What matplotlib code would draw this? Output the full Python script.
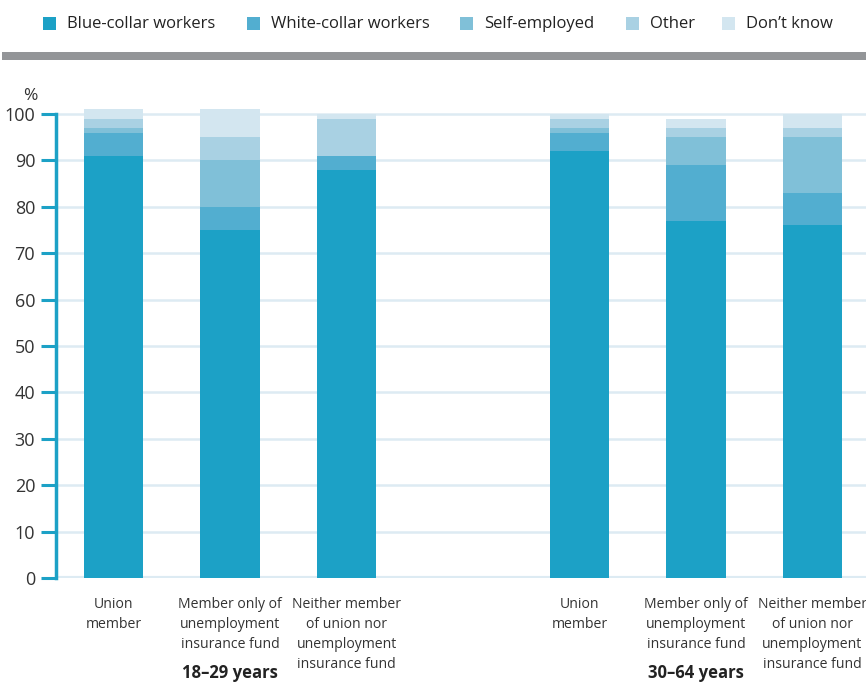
import matplotlib.pyplot as plt
from matplotlib.patches import Rectangle
import numpy as np

plt.rcParams['font.family'] = ['Open Sans', 'DejaVu Sans']

categories = [
    "Union\nmember",
    "Member only of\nunemployment\ninsurance fund",
    "Neither member\nof union nor\nunemployment\ninsurance fund",
]
groups = ["18\u201329 years", "30\u201364 years"]
series_names = ["Blue-collar workers", "White-collar workers", "Self-employed", "Other", "Don\u2019t know"]

# shares in % per bar: 18-29 (union, fund only, neither), then 30-64
blue_collar = [91, 75, 88, 92, 77, 76]
white_collar = [5, 5, 3, 4, 12, 7]
self_employed = [1, 10, 0, 1, 6, 12]
other = [2, 5, 8, 2, 2, 2]
dont_know = [2, 6, 1, 1, 2, 3]

colors = ["#1ca1c6", "#52aed0", "#80c0d8", "#a9d1e3", "#d3e6f0"]
axis_blue = "#1ca1c6"
grid_col = "#ddebf3"
txt = "#333333"

W, H = 866, 684
fig = plt.figure(figsize=(W / 100, H / 100), dpi=100)
ax = fig.add_axes([56 / W, 106 / H, 810 / W, 482.6 / H])

x = np.array([0, 1, 2, 4, 5, 6])
bottom = np.zeros(len(x))
for vals, col, name in zip([blue_collar, white_collar, self_employed, other, dont_know], colors, series_names):
    ax.bar(x, vals, width=0.51, bottom=bottom, color=col, label=name, zorder=3)
    bottom += np.array(vals)

for y in range(10, 101, 10):
    ax.axhline(y, color=grid_col, lw=1.8, zorder=1)
ax.axhline(0, color=grid_col, lw=3, zorder=1)

ax.set_xlim(-0.494, 6.46)
ax.set_ylim(0, 104)
ax.set_yticks(range(0, 101, 10))
ax.set_xticks([])
for s in ["top", "right", "bottom"]:
    ax.spines[s].set_visible(False)
ax.spines["left"].set_color(axis_blue)
ax.spines["left"].set_linewidth(2.5)
ax.spines["left"].set_bounds(0, 100)
ax.tick_params(axis="y", colors=axis_blue, length=11, width=2.2, labelsize=13, pad=4, labelcolor=txt)

# category labels under each bar
trans = ax.get_xaxis_transform()
for i, xi in enumerate(x):
    ax.text(xi, -0.040, categories[i % 3], transform=trans, ha="center", va="top",
            fontsize=10.1, color=txt, linespacing=1.46)
for g, xi in zip(groups, [1, 5]):
    ax.text(xi, -0.197, g, transform=trans, ha="center", va="center",
            fontsize=12, fontweight="bold", color="#222222")

fig.text(30 / W, 1 - 96 / H, "%", ha="center", va="center", fontsize=12.5, color=txt)

# grey rule under the legend
fig.add_artist(Rectangle((2 / W, 1 - 60 / H), 864 / W, 8 / H,
                         transform=fig.transFigure, color="#939598", lw=0))

# legend row: square swatch + label
swatch_x = [43, 247, 460, 626, 722]
for sx, col, name in zip(swatch_x, colors, series_names):
    fig.add_artist(Rectangle((sx / W, 1 - 30 / H), 13 / W, 13 / H,
                             transform=fig.transFigure, color=col, lw=0))
    fig.text((sx + 24) / W, 1 - 24 / H, name, ha="left", va="center",
             fontsize=12, color="#222222")

fig.savefig("out.png", dpi=100)
